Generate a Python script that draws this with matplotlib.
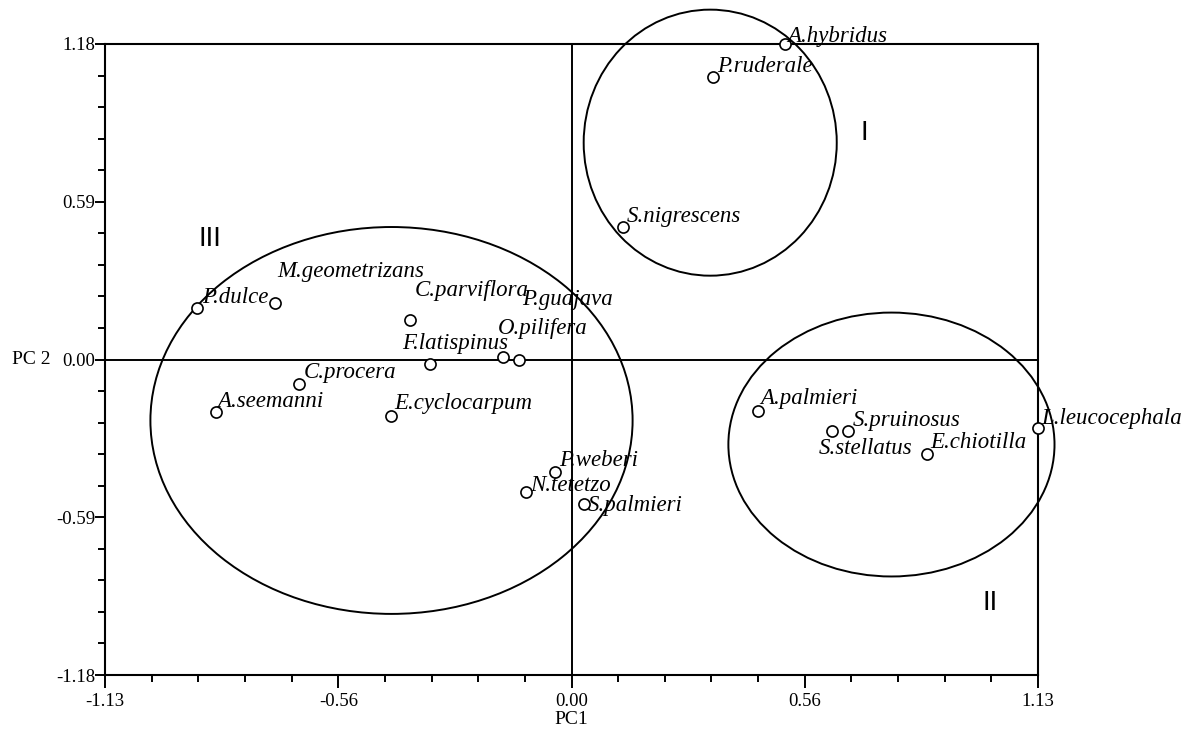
import numpy as np
import matplotlib
matplotlib.use("Agg")
import matplotlib.pyplot as plt
from matplotlib.patches import Ellipse

# PCA scores (PC1, PC2) --------------------------------------------------------
species = [
    "A.hybridus", "P.ruderale", "S.nigrescens", "P.dulce", "M.geometrizans",
    "C.parviflora", "O.pilifera", "P.guajava", "F.latispinus", "C.procera",
    "A.seemanni", "E.cyclocarpum", "P.weberi", "N.tetetzo", "S.palmieri",
    "A.palmieri", "S.stellatus", "S.pruinosus", "E.chiotilla", "L.leucocephala",
]
pc1 = [0.518, 0.342, 0.124, -0.906, -0.719,
       -0.392, -0.165, -0.128, -0.342, -0.659,
       -0.862, -0.438, -0.039, -0.111, 0.031,
       0.451, 0.632, 0.669, 0.860, 1.131]
pc2 = [1.18, 1.058, 0.494, 0.191, 0.213,
       0.146, 0.008, 0.0, -0.015, -0.090,
       -0.198, -0.213, -0.419, -0.494, -0.539,
       -0.194, -0.269, -0.266, -0.355, -0.258]

# groups: centre, width, height (data units)
group_names = ["I", "II", "III"]
group_cx = [0.336, 0.775, -0.436]
group_cy = [0.811, -0.318, -0.228]
group_w = [0.613, 0.790, 1.168]
group_h = [0.995, 0.987, 1.447]
group_label_x = [0.710, 1.013, -0.877]
group_label_y = [0.849, -0.909, 0.449]

x_ticks = [-1.13, -0.56, 0.00, 0.56, 1.13]
y_ticks = [-1.18, -0.59, 0.00, 0.59, 1.18]

# label offsets in pixels (text left/baseline relative to the marker)
label_offsets = [
    (2, 2), (4, 5), (4, 5), (5, 5), (3, 26),
    (5, 24), (-6, 23), (3, 55), (-28, 15), (4, 6),
    (2, 5), (4, 7), (4, 6), (4, 1), (3, -7),
    (3, 7), (-14, -23), (5, 5), (4, 6), (3, 4),
]

# Figure -----------------------------------------------------------------------
fig = plt.figure(figsize=(11.9, 7.29), dpi=100)
ax = fig.add_axes([105 / 1190, 1 - 675 / 729, 933 / 1190, 631 / 729])

ax.set_xlim(-1.13, 1.13)
ax.set_ylim(-1.18, 1.18)

ax.axhline(0, color="black", lw=1.4, zorder=1)
ax.axvline(0, color="black", lw=1.4, zorder=1)

for cx, cy, w, h in zip(group_cx, group_cy, group_w, group_h):
    ax.add_patch(Ellipse((cx, cy), w, h, fill=False, edgecolor="black",
                         lw=1.4, clip_on=False, zorder=2))

for name, gx, gy in zip(group_names, group_label_x, group_label_y):
    ax.text(gx, gy, name, fontsize=20, family="Liberation Sans",
            ha="center", va="center")

ax.plot(pc1, pc2, "o", ms=8, mfc="white", mec="black", mew=1.2,
        clip_on=False, zorder=4)

for name, x, y, (dx, dy) in zip(species, pc1, pc2, label_offsets):
    ax.annotate(name, (x, y), xytext=(dx, dy), textcoords="offset pixels",
                fontsize=16.5, family="Liberation Serif", style="italic",
                ha="left", va="baseline", zorder=5, annotation_clip=False)

# axes styling
for s in ax.spines.values():
    s.set_linewidth(1.5)

ax.set_xticks(np.linspace(-1.13, 1.13, 5))
ax.set_xticklabels([f"{v:.2f}" for v in x_ticks])
ax.set_xticks(np.linspace(-1.13, 1.13, 21), minor=True)
ax.set_yticks(np.linspace(-1.18, 1.18, 5))
ax.set_yticklabels([f"{v:.2f}" for v in y_ticks])
ax.set_yticks(np.linspace(-1.18, 1.18, 21), minor=True)

ax.tick_params(which="both", direction="out", top=False, right=False,
               width=1.4, labelsize=13.5)
ax.tick_params(axis="x", which="major", length=9, pad=4)
ax.tick_params(axis="x", which="minor", length=5)
ax.tick_params(axis="y", which="major", length=7, pad=0)
ax.tick_params(axis="y", which="minor", length=5)
for lab in ax.get_xticklabels() + ax.get_yticklabels():
    lab.set_family("Liberation Serif")

ax.set_xlabel("PC1", fontsize=14, family="Liberation Serif", labelpad=1)
fig.text(31 / 1190, 1 - 360 / 729, "PC 2", fontsize=14,
         family="Liberation Serif", ha="center", va="center")

fig.savefig("out.png", dpi=100)
